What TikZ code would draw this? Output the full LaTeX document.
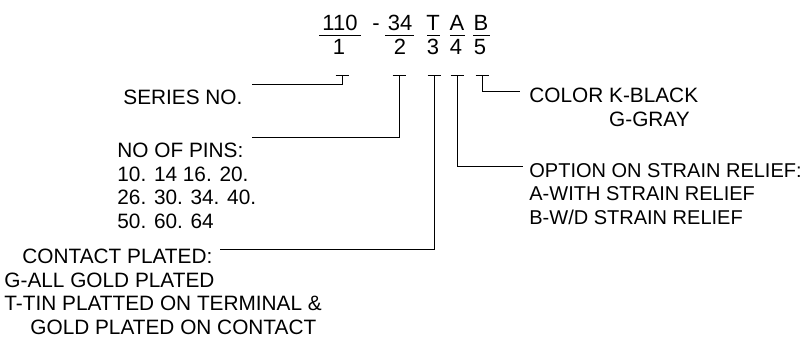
\documentclass[tikz,border=0pt]{standalone}
\usepackage{fontspec}
\setmainfont{Liberation Sans}
\usetikzlibrary{positioning}

\begin{document}
\begin{tikzpicture}[x=0.5pt, y=-0.5pt,
    code/.style={font=\fontsize{11}{13}\selectfont, inner sep=0pt, anchor=base},
    label/.style={font=\fontsize{10.4}{11.7}\selectfont, inner sep=0pt, anchor=north west, align=left},
    lead/.style={line width=0.5pt}]
    \useasboundingbox (0,0) rectangle (807,341);

    % Codice
    \node[code] (c1) at (340,31) {110};
    \node[code] (dash) at (376,31) {-};
    \node[code] (c2) at (400,31) {34};
    \node[code] (c3) at (433,31) {T};
    \node[code] (c4) at (457,31) {A};
    \node[code] (c5) at (481,31) {B};
    \foreach \a/\b in {319/361, 385/414, 427/440, 450/465, 473/490} {
        \draw[lead] (\a,36) -- (\b,36);
    }

    % Numeri
    \node[code] (d1) at (339,55) {1};
    \node[code] (d2) at (400,55) {2};
    \node[code] (d3) at (433,55) {3};
    \node[code] (d4) at (456,55) {4};
    \node[code] (d5) at (480,55) {5};

    % Tacche
    \foreach \x/\n in {342/1, 399/2, 434/3, 457/4, 482/5} {
        \coordinate (t\n) at (\x,76);
        \draw[lead] (\x-6.5,76) -- (\x+6.5,76);
    }

    % Descrizioni
    \node[label] (series) at (123,90) {SERIES NO.};
    \node[label] (pins) at (117,143) {NO OF PINS:\\10. 14 16. 20.\\26. 30. 34. 40.\\50. 60. 64};
    \node[label] (contact) at (4,249) {\hspace*{9pt}CONTACT PLATED:\\G-ALL GOLD PLATED\\T-TIN PLATTED ON TERMINAL \&\\\hspace*{13pt}GOLD PLATED ON CONTACT};
    \node[label] (color) at (529,88) {COLOR K-BLACK\\\hphantom{COLOR\ }G-GRAY};
    \node[label, font=\fontsize{10}{11.7}\selectfont] (option) at (529,163) {OPTION ON STRAIN RELIEF:\\A-WITH STRAIN RELIEF\\B-W/D STRAIN RELIEF};

    % Linee di richiamo
    \coordinate (e1) at (252,85);
    \coordinate (e2) at (252,138);
    \coordinate (e3) at (220,250);
    \coordinate (e4) at (523,167);
    \coordinate (e5) at (520,92);
    \foreach \n in {1,...,5} {
        \draw[lead] (t\n) |- (e\n);
    }
\end{tikzpicture}
\end{document}
